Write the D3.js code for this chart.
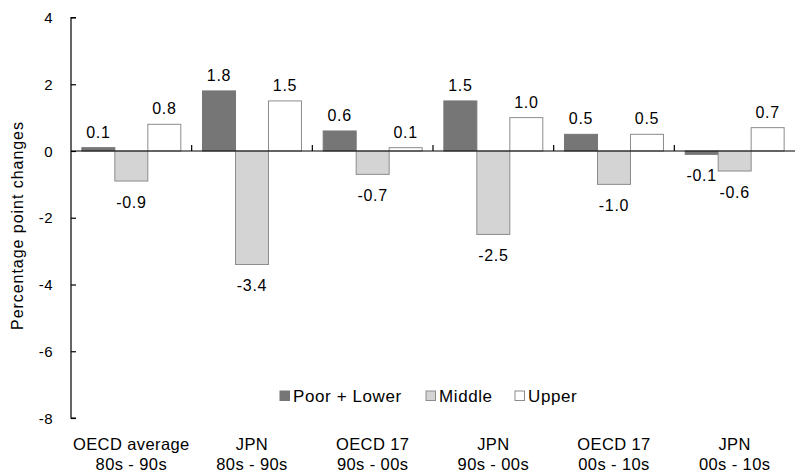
<!DOCTYPE html>
<html>
<head>
<meta charset="utf-8">
<script src="https://cdn.jsdelivr.net/npm/d3@7"></script>
<style>
  body { margin: 0; background: #fff; }
  svg { display: block; font-family: "Liberation Sans", Arial, sans-serif; }
</style>
</head>
<body>
<svg id="chart" width="795" height="474"></svg>
<script>
// Category groups (two-line labels)
const groupLine1 = ["OECD average", "JPN", "OECD 17", "JPN", "OECD 17", "JPN"];
const groupLine2 = ["80s - 90s", "80s - 90s", "90s - 00s", "90s - 00s", "00s - 10s", "00s - 10s"];

// Income classes
const seriesNames = ["Poor + Lower", "Middle", "Upper"];

// Percentage point changes per group, per class
const poorLower = [0.1, 1.8, 0.6, 1.5, 0.5, -0.1];
const middle    = [-0.9, -3.4, -0.7, -2.5, -1.0, -0.6];
const upper     = [0.8, 1.5, 0.1, 1.0, 0.5, 0.7];

const yTicks = [-8, -6, -4, -2, 0, 2, 4];

const fills   = ["#767676", "#d4d4d4", "#ffffff"];
const strokes = ["#767676", "#8c8c8c", "#8c8c8c"];

const svg = d3.select("#chart");
const margin = { left: 71, right: 0, top: 17.5, bottom: 56 };
const W = 795, H = 474;

const x0 = d3.scaleBand()
  .domain(d3.range(groupLine1.length))
  .range([margin.left, W - margin.right])
  .paddingInner(0.18)
  .paddingOuter(0.09);

const x1 = d3.scaleBand()
  .domain(d3.range(seriesNames.length))
  .range([0, x0.bandwidth()]);

const y = d3.scaleLinear().domain([-8, 4]).range([H - margin.bottom, margin.top]);

const seriesValues = [poorLower, middle, upper];
const bars = [];
seriesValues.forEach((vals, s) => vals.forEach((v, g) => bars.push({ g, s, v })));

// Group boundaries and centres across the full plot width
const groupW = (W - margin.left) / groupLine1.length;
const bandStart = i => margin.left + i * groupW;
const bandCenter = i => bandStart(i) + groupW / 2;

// Bars
svg.append("g").selectAll("rect").data(bars).join("rect")
  .attr("x", d => x0(d.g) + x1(d.s))
  .attr("width", x1.bandwidth())
  .attr("y", d => y(Math.max(0, d.v)))
  .attr("height", d => Math.abs(y(d.v) - y(0)))
  .attr("fill", d => fills[d.s])
  .attr("stroke", d => strokes[d.s])
  .attr("stroke-width", 1);

// Value labels
svg.append("g").selectAll("text").data(bars).join("text")
  .attr("x", d => x0(d.g) + x1(d.s) + x1.bandwidth() / 2)
  .attr("y", d => d.v >= 0 ? y(d.v) - 10 : y(d.v) + 27)
  .attr("text-anchor", "middle")
  .attr("font-size", 16)
  .attr("letter-spacing", 0.7)
  .attr("fill", "#000")
  .text(d => d.v.toFixed(1));

// Y axis
const yAxis = svg.append("g")
  .attr("transform", `translate(${margin.left},0)`)
  .call(d3.axisRight(y).tickValues(yTicks).tickSize(5).tickFormat(""));
yAxis.select(".domain").attr("stroke", "#000").attr("stroke-width", 1.2).attr("d", `M5,${y(-8)}H0V${y(4)}H5`);
yAxis.selectAll(".tick line").attr("stroke", "#000").attr("stroke-width", 1.2);

svg.append("g").selectAll("text").data(yTicks).join("text")
  .attr("x", 53)
  .attr("y", d => y(d) + 5.5)
  .attr("text-anchor", "end")
  .attr("font-size", 15)
  .attr("letter-spacing", 0.4)
  .text(d => d);

// Zero line with group boundary ticks
svg.append("line")
  .attr("x1", margin.left).attr("x2", W)
  .attr("y1", y(0)).attr("y2", y(0))
  .attr("stroke", "#000").attr("stroke-width", 1.2);

svg.append("g").selectAll("line").data(d3.range(1, groupLine1.length)).join("line")
  .attr("x1", d => bandStart(d)).attr("x2", d => bandStart(d))
  .attr("y1", y(0)).attr("y2", y(0) - 6)
  .attr("stroke", "#000").attr("stroke-width", 1.2);

// Y axis title
svg.append("text")
  .attr("transform", `translate(23,226) rotate(-90)`)
  .attr("text-anchor", "middle")
  .attr("font-size", 16)
  .attr("textLength", 208)
  .attr("lengthAdjust", "spacing")
  .text("Percentage point changes");

// Category labels
const cat = svg.append("g").selectAll("text").data(d3.range(groupLine1.length)).join("text")
  .attr("text-anchor", "middle")
  .attr("font-size", 16.5)
  .attr("letter-spacing", 0.4);
cat.append("tspan").attr("x", d => bandCenter(d)).attr("y", 450).text(d => groupLine1[d]);
cat.append("tspan").attr("x", d => bandCenter(d)).attr("y", 470).text(d => groupLine2[d]);

// Legend
const legendX = [280, 426, 515];
const legend = svg.append("g").selectAll("g").data(seriesNames).join("g")
  .attr("transform", (d, i) => `translate(${legendX[i]},391)`);
legend.append("rect")
  .attr("width", 9.5).attr("height", 9.5)
  .attr("fill", (d, i) => fills[i])
  .attr("stroke", (d, i) => strokes[i]);
legend.append("text")
  .attr("x", 13).attr("y", 11)
  .attr("font-size", 17)
  .attr("letter-spacing", 0.6)
  .text(d => d);
</script>
</body>
</html>
